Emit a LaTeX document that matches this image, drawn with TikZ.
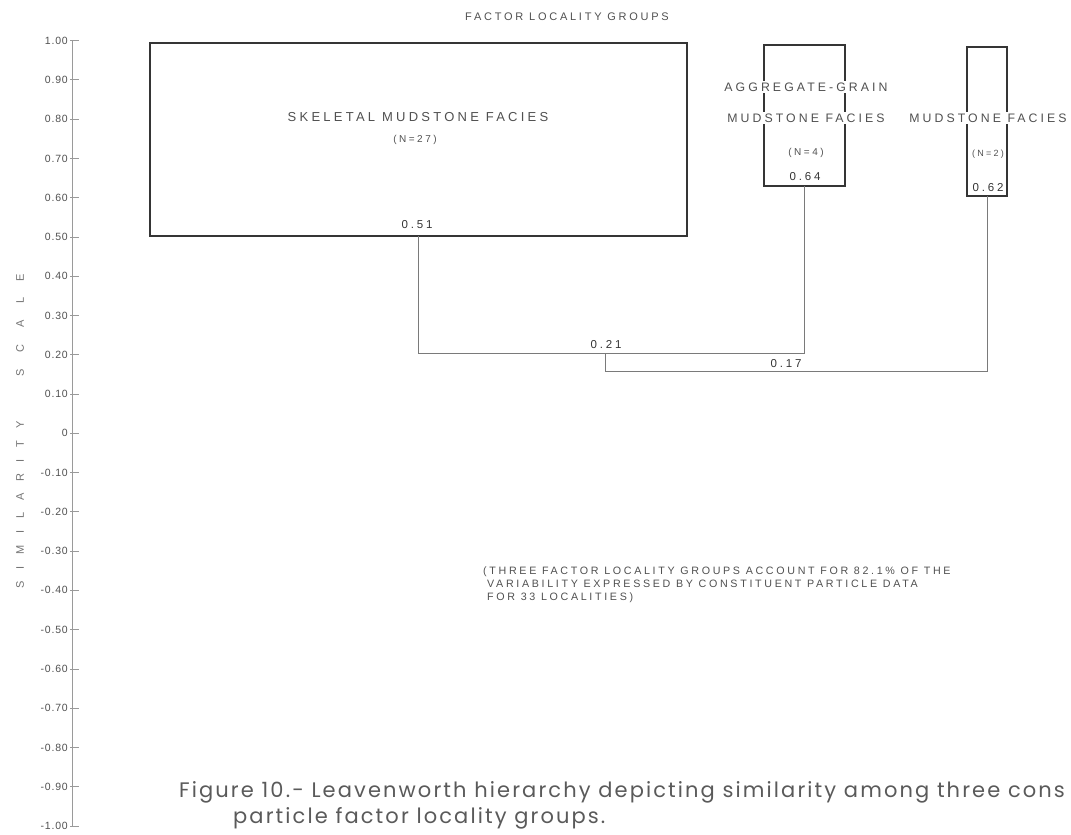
\documentclass[tikz,border=0pt]{standalone}
\usepackage{fontspec}
\setmainfont{Liberation Sans}
\newfontfamily\lett[LetterSpace=25]{Liberation Sans}
\newfontfamily\tickf[LetterSpace=8]{Liberation Sans}
\newfontfamily\sidef[LetterSpace=107]{Liberation Sans}
\newfontfamily\sidefw[LetterSpace=150]{Liberation Sans}
\newfontfamily\capfont[LetterSpace=10]{Poppins}
\definecolor{ink}{HTML}{353535}
\definecolor{txt}{HTML}{505050}
\definecolor{axisc}{HTML}{9A9A9A}
\definecolor{conn}{HTML}{7A7A7A}
\definecolor{capc}{HTML}{5A5A5A}
\begin{document}
\begin{tikzpicture}[x=1pt,y=-1pt,
  box/.style={draw=ink, line width=1.1pt, inner sep=0pt, outer sep=0pt, anchor=north west},
  lbl/.style={font=\lett\fontsize{13}{13}\selectfont, text=txt, fill=white, inner sep=1.5pt},
  lbls/.style={lbl, font=\lett\fontsize{12.3}{12.3}\selectfont},
  small/.style={font=\lett\fontsize{10}{10}\selectfont, text=txt, inner sep=1pt},
  num/.style={font=\lett\fontsize{11.5}{11.5}\selectfont, text=ink, inner sep=1pt},
  link/.style={draw=conn, line width=0.8pt},
  ticklbl/.style={font=\tickf\fontsize{10.5}{10.5}\selectfont, text=txt, anchor=east, inner sep=0pt},
  note/.style={font=\lett\fontsize{10.7}{13}\selectfont, text=txt, align=left, anchor=north west, inner sep=0pt},
  side/.style={text=txt!80, rotate=90, inner sep=0pt},
  caption/.style={font=\capfont\fontsize{21}{21}\selectfont, text=capc, anchor=base west, inner sep=0pt}]
\useasboundingbox (0,0) rectangle (1071,835);

% axis
\draw[axisc, line width=0.9pt] (72,40.6) -- (72,826);
\foreach \v/\l [count=\i] in {1.00/1.00,0.90/0.90,0.80/0.80,0.70/0.70,0.60/0.60,0.50/0.50,0.40/0.40,0.30/0.30,0.20/0.20,0.10/0.10,0/0,-0.10/-0.10,-0.20/-0.20,-0.30/-0.30,-0.40/-0.40,-0.50/-0.50,-0.60/-0.60,-0.70/-0.70,-0.80/-0.80,-0.90/-0.90,-1.00/-1.00}{
  \pgfmathsetmacro{\yy}{433.3-\v*392.7}
  \draw[axisc, line width=0.8pt] (70,\yy) -- (79,\yy);
  \node[ticklbl] (t\i) at (68,\yy) {\l};
}
\node[side, font=\sidef\fontsize{11}{11}\selectfont] (simlab) at (20,505) {SIMILARITY};
\node[side, font=\sidefw\fontsize{11}{11}\selectfont] (scalelab) at (20,325) {SCALE};

% title
\node[font=\lett\fontsize{11}{11}\selectfont, text=txt] (title) at (567,17) {FACTOR LOCALITY GROUPS};

% boxes
\node[box, minimum width=537pt, minimum height=193pt] (skel) at (150,43) {};
\node[box, minimum width=81pt, minimum height=141pt] (agg) at (764,45) {};
\node[box, minimum width=40pt, minimum height=149pt] (mud) at (967,47) {};

% junctions
\coordinate (j21) at (605,353);
\coordinate (j17) at (786,371);

% connectors
\draw[link] (skel.south) -- (skel.south |- j21) -- (agg.south |- j21) -- (agg.south);
\draw[link] (j21) -- (j21 |- j17) -- (mud.south |- j17) -- (mud.south);

% texts
\node[lbl] (skeltxt) at (418,117) {SKELETAL MUDSTONE FACIES};
\node[small] (n27) at (415,140) {(N=27)};
\node[num] (v51) at (417,225) {0.51};

\node[lbls] (aggtxt1) at (806,87) {AGGREGATE-GRAIN};
\node[lbls] (aggtxt2) at (806,118) {MUDSTONE FACIES};
\node[small] (n4) at (806,153) {(N=4)};
\node[num] (v64) at (805,177) {0.64};

\node[lbls] (mudtxt) at (988,118) {MUDSTONE FACIES};
\node[small, font=\lett\fontsize{9}{9}\selectfont] (n2) at (988,154) {(N=2)};
\node[num, inner sep=0pt] (v62) at (988,188) {0.62};

\node[num] (v21) at (606,345) {0.21};
\node[num] (v17) at (786,364) {0.17};

\node[note] (notetxt) at (483,567) {(THREE FACTOR LOCALITY GROUPS ACCOUNT FOR 82.1\% OF THE\\
\hspace*{4pt}VARIABILITY EXPRESSED BY CONSTITUENT PARTICLE DATA\\
\hspace*{4pt}FOR 33 LOCALITIES)};

\node[caption] (cap1) at (179,797) {Figure 10.- Leavenworth hierarchy depicting similarity among three cons};
\node[caption] (cap2) at (233,823) {particle factor locality groups.};
\end{tikzpicture}
\end{document}
